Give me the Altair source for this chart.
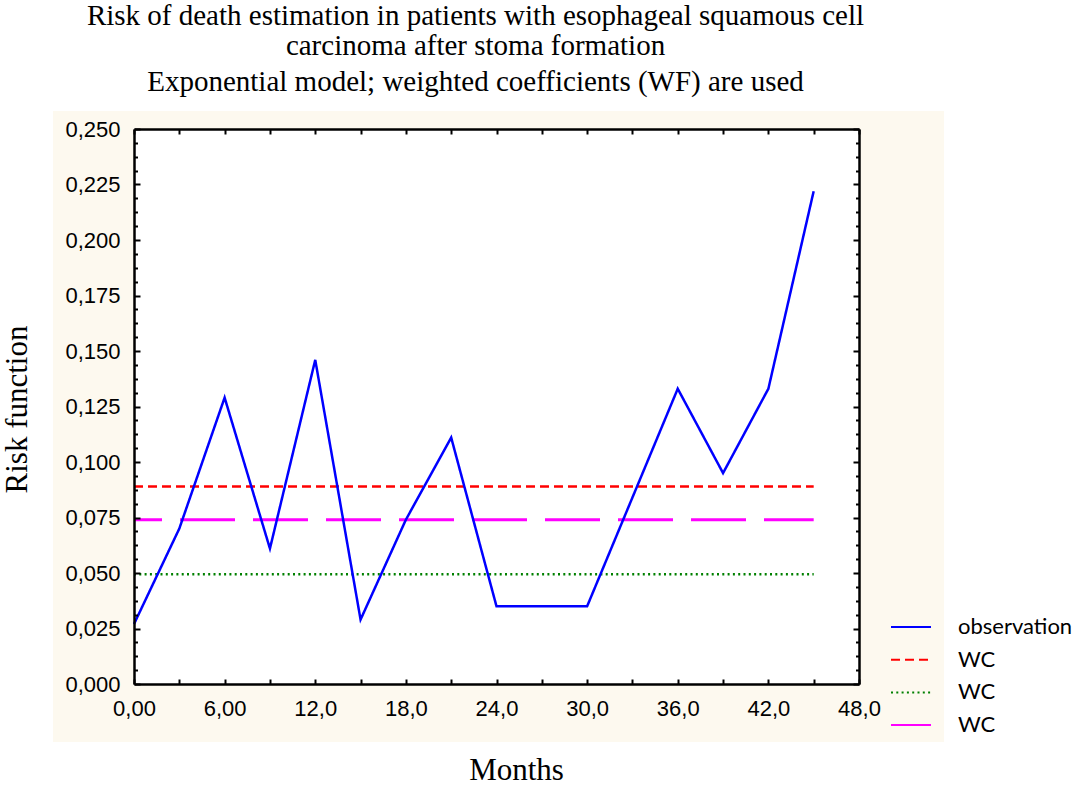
import altair as alt
import pandas as pd

# ---------------- data ----------------
title_lines = [
    "Risk of death estimation in patients with esophageal squamous cell",
    "carcinoma after stoma formation",
]
subtitle_line = "Exponential model; weighted coefficients (WF) are used"

months_obs = [0, 3, 6, 9, 12, 15, 18, 21, 24, 27, 30, 33, 36, 39, 42, 45]
risk_obs = [0.027, 0.070, 0.129, 0.061, 0.146, 0.029, 0.074, 0.111,
            0.035, 0.035, 0.035, 0.084, 0.133, 0.095, 0.133, 0.222]

wc_months = [0, 45]
wc_red = [0.089, 0.089]
wc_green = [0.0494, 0.0494]
wc_magenta = [0.074, 0.074]

series_keys = ["observation", "WC_red", "WC_green", "WC_magenta"]
series_colors = ["#0000ff", "#ff0000", "#008000", "#ff00ff"]
series_dashes = [[1, 0], [9, 5], [2, 3.3], [55, 18]]

x_label_values = [0, 6, 12, 18, 24, 30, 36, 42, 48]
x_tick_values = [0, 3, 6, 9, 12, 15, 18, 21, 24, 27, 30, 33, 36, 39, 42, 45, 48]
y_label_values = [0.0, 0.025, 0.05, 0.075, 0.1, 0.125, 0.15, 0.175, 0.2, 0.225, 0.25]
y_tick_values = [round(i * 0.00625, 6) for i in range(41)]

W, H = 725, 555

df_obs = pd.DataFrame({"month": months_obs, "risk": risk_obs, "series": "observation"})
df_red = pd.DataFrame({"month": wc_months, "risk": wc_red, "series": "WC_red"})
df_green = pd.DataFrame({"month": wc_months, "risk": wc_green, "series": "WC_green"})
df_mag = pd.DataFrame({"month": wc_months, "risk": wc_magenta, "series": "WC_magenta"})

xscale = alt.Scale(domain=[0, 48], nice=False, zero=False)
yscale = alt.Scale(domain=[0, 0.25], nice=False, zero=False)

legend_props = dict(
    orient="none", legendX=766, legendY=487, title=None,
    symbolType="M-2,0L2,0", symbolSize=400, symbolStrokeWidth=2,
    labelFont="Lato", labelFontSize=22, labelColor="black",
    labelOffset=36, rowPadding=10.7,
    labelExpr="datum.value == 'observation' ? 'observation' : 'WC'",
)
color = alt.Color("series:N", scale=alt.Scale(domain=series_keys, range=series_colors),
                  legend=alt.Legend(**legend_props))
dash = alt.StrokeDash("series:N", scale=alt.Scale(domain=series_keys, range=series_dashes),
                      legend=alt.Legend(**legend_props))

x_label_axis = alt.Axis(
    orient="bottom", values=x_label_values,
    labelExpr="replace(datum.value < 10 ? format(datum.value, '.2f') : format(datum.value, '.1f'), '.', ',')",
    ticks=False, tickSize=0, domain=True, domainColor="black", domainWidth=2.5,
    labelFont="Liberation Sans", labelFontSize=22, labelColor="black", labelPadding=14,
    labelFlush=False, labelOverlap=False, grid=False,
    title="Months", titleFont="Liberation Serif", titleFontSize=31, titleFontWeight="normal",
    titleColor="black", titleX=382, titleY=95, titleBaseline="alphabetic", titleAlign="center",
    zindex=1,
)
y_label_axis = alt.Axis(
    orient="left", values=y_label_values,
    labelExpr="replace(format(datum.value, '.3f'), '.', ',')",
    ticks=False, tickSize=0, domain=True, domainColor="black", domainWidth=2.5,
    labelFont="Liberation Sans", labelFontSize=22, labelColor="black", labelPadding=14,
    labelFlush=False, labelOverlap=False, grid=False,
    title="Risk function", titleFont="Liberation Serif", titleFontSize=31, titleFontWeight="normal",
    titleColor="black", titleX=-108, titleY=280, titleBaseline="alphabetic", titleAlign="center",
    titleAngle=270, zindex=1,
)

y_tick_size = {"condition": {"test": "abs(datum.value*40 - round(datum.value*40)) < 0.001", "value": 6},
               "value": 3.5}


def tick_axis_x(orient, domain):
    return alt.Axis(orient=orient, offset=-H, values=x_tick_values, labels=False, ticks=True,
                    tickSize=5, tickWidth=2, tickColor="black", domain=domain,
                    domainColor="black", domainWidth=2.5, grid=False, title=None, zindex=1)


def tick_axis_y(orient, domain):
    return alt.Axis(orient=orient, offset=-W, values=y_tick_values, labels=False, ticks=True,
                    tickSize=y_tick_size, tickWidth=2, tickColor="black", domain=domain,
                    domainColor="black", domainWidth=2.5, grid=False, title=None, zindex=1)


cream = alt.Chart(df_obs).mark_rect(color="#fdf9ef").encode(
    x=alt.value(-81), x2=alt.value(W + 85), y=alt.value(-18), y2=alt.value(H + 58))
white = alt.Chart(df_obs).mark_rect(color="white").encode(
    x=alt.value(0), x2=alt.value(W), y=alt.value(0), y2=alt.value(H))


def series_layer(df, width, **mk):
    return alt.Chart(df).mark_line(strokeWidth=width, **mk).encode(
        x=alt.X("month:Q", scale=xscale, axis=None),
        y=alt.Y("risk:Q", scale=yscale, axis=None),
        color=color, strokeDash=dash, order=alt.Order("month:Q"))


red_layer = series_layer(df_red, 2.5)
green_layer = series_layer(df_green, 2.5)
mag_layer = series_layer(df_mag, 3, strokeDashOffset=27)
obs_layer = alt.Chart(df_obs).mark_line(strokeWidth=2.5).encode(
    x=alt.X("month:Q", scale=xscale, axis=x_label_axis),
    y=alt.Y("risk:Q", scale=yscale, axis=y_label_axis),
    color=color, strokeDash=dash, order=alt.Order("month:Q"))

ticks_a = alt.Chart(df_obs).mark_point(opacity=0).encode(
    x=alt.X("month:Q", scale=xscale, axis=tick_axis_x("top", False)),
    y=alt.Y("risk:Q", scale=yscale, axis=tick_axis_y("right", False)))
ticks_b = alt.Chart(df_obs).mark_point(opacity=0).encode(
    x=alt.X("month:Q", scale=xscale, axis=tick_axis_x("bottom", True)),
    y=alt.Y("risk:Q", scale=yscale, axis=tick_axis_y("left", True)))

chart = alt.layer(
    cream, white, red_layer, green_layer, mag_layer, obs_layer, ticks_a, ticks_b
).resolve_axis(x="independent", y="independent").properties(
    width=W, height=H,
    autosize=alt.AutoSizeParams(type="none"),
    padding={"left": 134, "top": 129, "right": 1076 - 134 - W, "bottom": 785 - 129 - H},
    title=alt.TitleParams(
        text=title_lines, subtitle=subtitle_line,
        font="Liberation Serif", fontSize=29, fontWeight="normal", color="black",
        subtitleFont="Liberation Serif", subtitleFontSize=29, subtitleColor="black",
        lineHeight=30, subtitleLineHeight=30, subtitlePadding=7,
        anchor="middle", frame="group", dx=-21, offset=14,
    ),
).configure_view(stroke=None).configure(background="white")

chart.save("out.html", embed_options={"renderer": "svg", "actions": False})
